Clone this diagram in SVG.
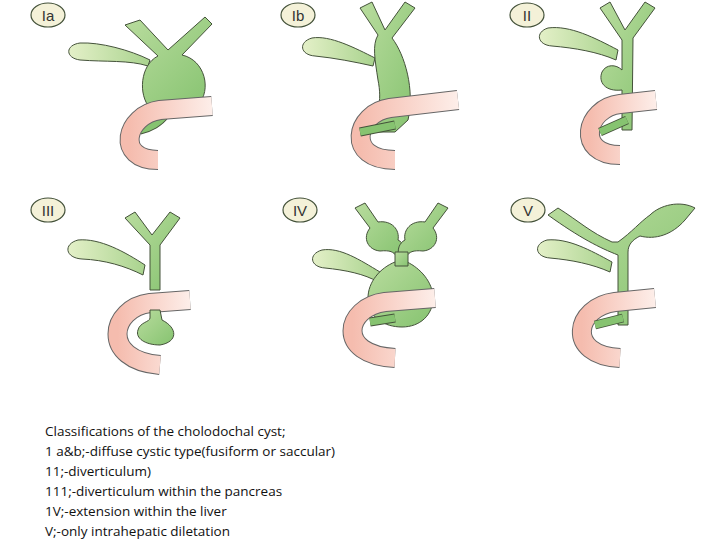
<svg xmlns="http://www.w3.org/2000/svg" width="720" height="540" viewBox="0 0 720 540">
<defs>
<linearGradient id="g" x1="0" y1="0" x2="1" y2="1"><stop offset="0" stop-color="#b9dc9e"/><stop offset="1" stop-color="#86c370"/></linearGradient>
<linearGradient id="gb" x1="0" y1="0" x2="1" y2="0"><stop offset="0" stop-color="#e4f0c8"/><stop offset="1" stop-color="#a9d38e"/></linearGradient>
<linearGradient id="p" x1="0" y1="0" x2="1" y2="0"><stop offset="0" stop-color="#f5bcae"/><stop offset="1" stop-color="#fdeee9"/></linearGradient>
</defs>
<style>
.s{fill:url(#g);stroke:#44523a;stroke-width:1}
.gb{fill:url(#gb);stroke:#44523a;stroke-width:1}
.do{fill:none;stroke:#666;stroke-width:20}
.di{fill:none;stroke:url(#p);stroke-width:18}
.dt{fill:none;stroke:#86c370;stroke-width:7}
.dto{fill:none;stroke:#44523a;stroke-width:9}
.lb{fill:#f4f1d8;stroke:#44523a;stroke-width:1.2}
.lt{font-family:"Liberation Sans",sans-serif;font-size:15px;fill:#333;text-anchor:middle}
.cap{font-family:"Open Sans","Liberation Sans",sans-serif;font-size:13.5px;fill:#111}
</style>
<g id="Ia">
<ellipse class="lb" cx="48" cy="15" rx="17" ry="12"/><text class="lt" x="48" y="21">Ia</text>
<path class="gb" d="M150,60 C130,50 100,42 80,43 C65,45 65,58 80,60 C105,62 130,60 148,66 Z"/>
<path class="dto" d="M165,115 C160,122 150,128 140,130"/><path class="dt" d="M165,115 C160,122 150,128 140,130"/>
<path class="s" d="M125,25 L140,20 L168,50 L205,17 L212,24 L182,55 C205,60 212,90 198,105 L150,108 C138,95 140,65 158,56 Z"/>
<path class="do" d="M212,106 L160,110 C125,115 115,160 158,160"/><path class="di" d="M212,106 L160,110 C125,115 115,160 158,160"/>
</g>
<g id="Ib">
<ellipse class="lb" cx="298" cy="15" rx="17" ry="12"/><text class="lt" x="298" y="21">Ib</text>
<path class="gb" d="M375,58 C355,48 330,35 312,38 C298,42 300,55 315,56 C335,58 355,62 373,66 Z"/>
<path class="s" d="M360,8 L372,2 L385,30 L405,2 L415,8 L392,38 C405,55 415,90 408,120 L395,132 L360,132 C380,120 382,100 378,80 C375,60 372,45 378,35 Z"/>
<path class="do" d="M458,100 L390,108 C355,113 345,160 395,160"/><path class="di" d="M458,100 L390,108 C355,113 345,160 395,160"/>
<path class="dto" d="M395,125 L360,132"/><path class="dt" d="M395,125 L360,132"/>
</g>
<g id="II">
<ellipse class="lb" cx="527" cy="15" rx="17" ry="12"/><text class="lt" x="527" y="21">II</text>
<path class="gb" d="M618,50 C595,38 570,25 548,28 C535,32 537,45 552,46 C575,48 598,52 616,60 Z"/>
<path class="s" d="M600,8 L610,2 L625,30 L645,2 L655,8 L633,38 L632,130 L622,130 L622,90 C605,92 598,82 602,72 C606,64 616,64 622,70 L622,40 Z"/>
<path class="do" d="M656,100 L620,104 C585,108 575,155 620,155"/><path class="di" d="M656,100 L620,104 C585,108 575,155 620,155"/>
<path class="dto" d="M627,120 L600,132"/><path class="dt" d="M627,120 L600,132"/>
</g>
<g id="III">
<ellipse class="lb" cx="48" cy="210" rx="17" ry="12"/><text class="lt" x="48" y="216">III</text>
<path class="gb" d="M145,265 C125,252 100,238 78,240 C63,244 65,258 82,259 C105,260 125,266 143,275 Z"/>
<path class="s" d="M125,218 L135,212 L152,235 L170,212 L180,218 L160,245 L160,290 L150,290 L150,245 Z"/>
<path class="do" d="M190,300 L150,303 C110,308 100,360 160,365"/><path class="di" d="M190,300 L150,303 C110,308 100,360 160,365"/>
<path class="s" d="M150,310 L160,310 L162,320 C178,328 178,342 160,345 C145,345 135,338 138,330 C140,322 150,322 150,318 Z"/>
</g>
<g id="IV">
<ellipse class="lb" cx="300" cy="210" rx="17" ry="12"/><text class="lt" x="300" y="216">IV</text>
<path class="gb" d="M380,272 C360,260 340,247 322,250 C308,254 310,267 325,268 C345,270 365,274 378,282 Z"/>
<path class="s" d="M395,262 C380,268 368,282 368,298 C368,318 385,327 402,327 C420,327 433,315 433,298 C433,282 420,268 407,262 Z"/>
<path class="s" d="M355,208 L365,203 L378,222 C392,220 400,230 398,240 C404,243 406,250 404,256 L396,256 C394,252 390,250 380,251 C368,250 362,238 370,228 Z"/>
<path class="s" d="M448,208 L438,203 L425,222 C411,220 403,230 405,240 C399,243 397,250 399,256 L407,256 C409,252 413,250 423,251 C435,250 441,238 433,228 Z"/>
<path class="s" d="M395,252 L408,252 L408,266 L395,266 Z" stroke="none"/>
<path class="do" d="M435,298 L385,302 C345,307 335,355 395,358"/><path class="di" d="M435,298 L385,302 C345,307 335,355 395,358"/>
<path class="dto" d="M395,318 L370,322"/><path class="dt" d="M395,318 L370,322"/>
</g>
<g id="V">
<ellipse class="lb" cx="528" cy="210" rx="17" ry="12"/><text class="lt" x="528" y="216">V</text>
<path class="gb" d="M612,262 C590,250 568,238 547,240 C533,244 535,257 550,258 C572,260 592,264 610,272 Z"/>
<path class="s" d="M548,215 L558,208 C580,222 590,232 612,242 L618,242 C632,232 640,222 650,215 C660,205 680,200 695,208 L685,220 C672,235 655,240 640,236 C632,240 628,245 628,252 L628,325 L618,325 L618,255 C600,248 580,238 548,215 Z"/>
<path class="do" d="M655,298 L615,302 C575,307 565,355 620,358"/><path class="di" d="M655,298 L615,302 C575,307 565,355 620,358"/>
<path class="dto" d="M623,318 L595,325"/><path class="dt" d="M623,318 L595,325"/>
</g>
<g id="caption" class="cap">
<text x="45" y="436">Classifications of the cholodochal cyst;</text>
<text x="45" y="456">1 a&amp;b;-diffuse cystic type(fusiform or saccular)</text>
<text x="45" y="476">11;-diverticulum)</text>
<text x="45" y="496">111;-diverticulum within the pancreas</text>
<text x="45" y="516">1V;-extension within the liver</text>
<text x="45" y="536">V;-only intrahepatic diletation</text>
</g>
</svg>
